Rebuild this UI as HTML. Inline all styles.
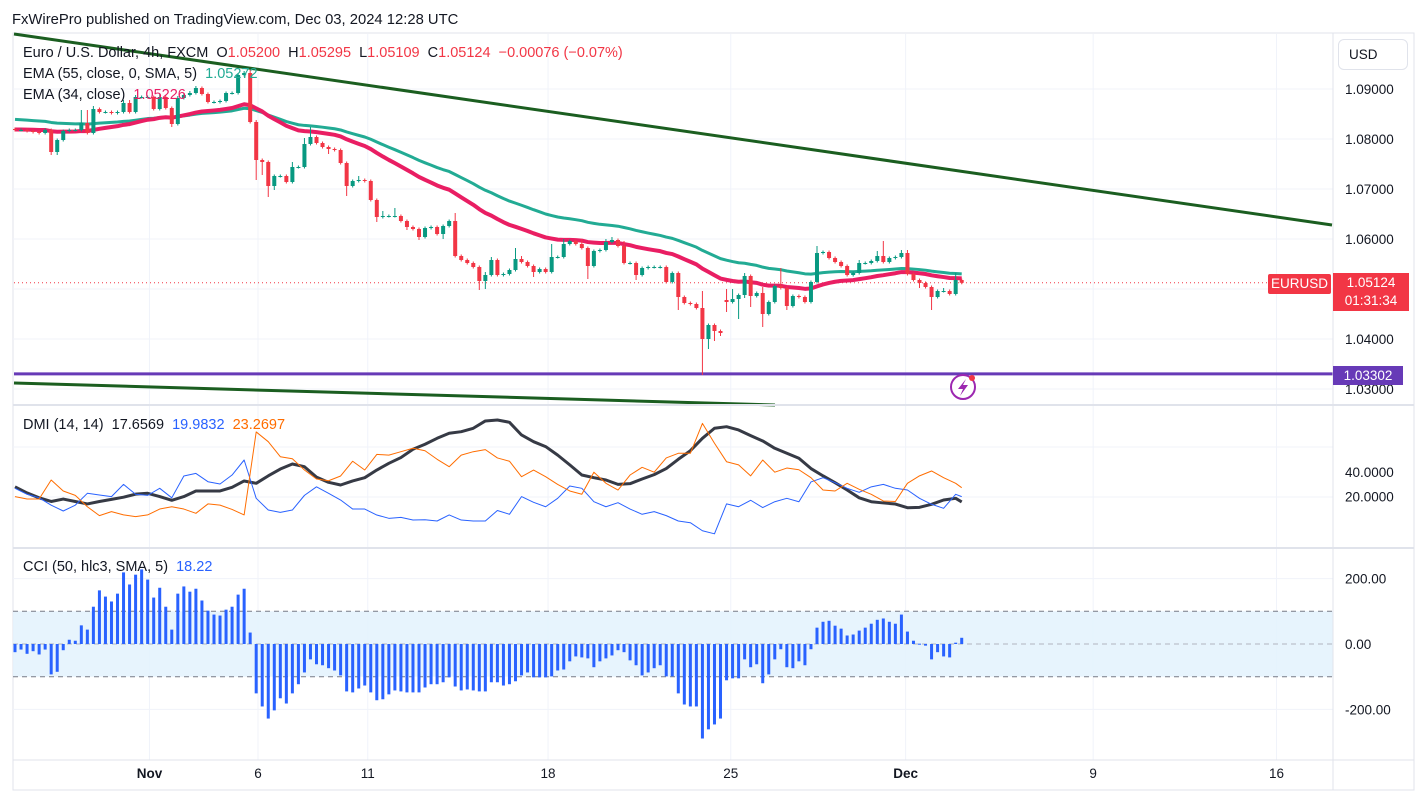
<!DOCTYPE html>
<html><head><meta charset="utf-8"><style>
html,body{margin:0;padding:0;background:#fff;width:1420px;height:791px;overflow:hidden}
svg{display:block;font-family:"Liberation Sans",sans-serif}
</style></head><body>
<svg id="c" width="1420" height="791" viewBox="0 0 1420 791" xmlns="http://www.w3.org/2000/svg">
<text x="12" y="24" font-size="14.8" fill="#131722">FxWirePro published on TradingView.com, Dec 03, 2024 12:28 UTC</text>
<rect x="13" y="33" width="1401" height="757" fill="none" stroke="#e0e3eb"/>
<g id="grid"></g>
<g id="price"></g>
<g id="dmi"></g>
<g id="cci"></g>
<g id="axes"></g>
</svg>
<script>
const closes=[1.0818,1.0818,1.0816,1.0814,1.0812,1.0818,1.0774,1.0798,1.0816,1.0818,
1.0818,1.0832,1.0812,1.0860,1.0854,1.0854,1.0852,1.0854,1.0872,1.0854,
1.0884,1.0884,1.0884,1.0860,1.0884,1.0862,1.0830,1.0882,1.0888,1.0892,
1.0902,1.0890,1.0874,1.0874,1.0876,1.0892,1.0892,1.0928,1.0932,1.0834,
1.0758,1.0754,1.0706,1.0726,1.0726,1.0714,1.0744,1.0744,1.0790,1.0804,
1.0792,1.0784,1.0780,1.0778,1.0752,1.0706,1.0716,1.0718,1.0716,1.0678,
1.0644,1.0646,1.0646,1.0646,1.0636,1.0624,1.0620,1.0604,1.0622,1.0624,
1.0610,1.0626,1.0636,1.0566,1.0558,1.0552,1.0544,1.0516,1.0528,1.0558,
1.0528,1.0530,1.0538,1.0560,1.0554,1.0546,1.0534,1.0540,1.0534,1.0564,
1.0564,1.0590,1.0596,1.0590,1.0582,1.0546,1.0576,1.0578,1.0594,1.0598,
1.0586,1.0552,1.0552,1.0528,1.0542,1.0544,1.0544,1.0544,1.0514,1.0532,
1.0484,1.0472,1.0470,1.0462,1.0400,1.0428,1.0416,1.0412,1.0474,1.0480,
1.0488,1.0526,1.0486,1.0492,1.0450,1.0474,1.0506,1.0502,1.0466,1.0486,
1.0484,1.0474,1.0514,1.0572,1.0574,1.0562,1.0554,1.0546,1.0528,1.0532,
1.0552,1.0552,1.0556,1.0566,1.0554,1.0562,1.0564,1.0572,1.0530,1.0518,
1.0512,1.0504,1.0484,1.0496,1.0496,1.0490,1.0518,1.05124];
const openOverrides={118:1.0478};
const wickHi=[3,3,3,3,3,3,3,3,3,3, 3,26,26,6,3,3,3,3,6,6, 4,3,3,3,6,3,3,4,3,4, 4,3,3,3,3,3,3,4,4,6,
4,3,3,3,3,3,10,3,12,20, 3,3,3,3,3,3,3,8,3,3, 3,10,3,16,3,3,3,3,3,3, 3,3,3,16,3,3,3,3,6,6,
3,3,3,22,6,3,3,3,3,26, 3,10,3,3,10,3,3,3,6,6, 3,10,3,3,3,3,3,3,3,3, 3,3,3,3,34,3,3,3,22,20,
3,6,3,3,12,3,3,36,3,3, 3,3,3,14,3,3,3,3,3,3, 6,3,3,10,30,3,3,6,6,3, 3,3,3,3,6,3,14,3];
const wickLo=[3,3,3,3,3,3,6,6,3,3, 3,3,3,3,3,3,3,3,3,3, 3,3,3,3,3,3,6,3,3,3, 3,3,3,3,3,3,3,3,3,3,
40,26,22,8,3,3,3,3,3,3, 3,3,10,3,3,20,3,3,3,3, 10,3,3,3,3,6,3,6,3,3, 3,10,3,3,3,3,3,18,16,3,
3,3,3,3,3,3,10,3,3,3, 3,3,3,3,3,26,3,3,3,3, 3,3,3,10,3,3,3,3,3,3, 26,3,3,3,72,20,20,6,20,3,
40,6,22,3,26,3,3,3,8,3, 3,3,3,3,3,3,3,3,3,3, 3,3,3,3,3,3,3,3,3,3, 10,3,26,3,3,3,3,3];
const adx=[28,23,19,16,18,16,14,16,17.7,19.5,22,22.7,20,17,20,24.6,24.6,24.6,27.6,32.8,30.9,
37,42.6,46.7,44.5,36,31.7,29.5,32.8,35.5,41.8,47.3,52,58.8,62.9,67.8,71.9,73.2,76,82,82.8,
80.9,70.5,65,61,54,46,37.7,35.5,33.6,30,30.6,34.4,38,43,50.6,57.6,67.8,76,77.3,74.6,
70,65.6,59.6,55.5,51.4,43,37,31.4,25.4,19,15.8,14.8,13.9,10.9,11.2,13.7,17.2,18.6,15.6];
const plusDI=[26.8,21.9,19,13,8.2,13,22.7,21.3,20,30,21.9,21,26.8,19,36.9,39,32.2,30.3,37.7,50,18.6,
9,7.1,9,21,28,22.7,17.2,9.8,9.8,4.9,2.2,3,0.8,1,0,5,0.8,0,0,8.6,
5.5,20,15.3,11.7,18.6,28.7,26.8,15.8,11.7,15,9.8,5.5,7.7,4.4,0,-1.4,-8,-10.5,14,11.7,
17,11,15.8,18.6,15.8,32,35.5,31.4,26.8,23.5,28,30,26.8,25.4,18.6,13.7,10.4,21.9,20];
const minusDI=[20,18,18,33.6,24.6,21,11.7,4.4,7.7,5,3.6,5,9.8,11.7,9.8,6.3,14,13,9.5,5,73,
65,52.7,51,41.8,34.4,33,36.9,49,41.8,54.6,54,56.8,59.6,57.6,50.6,44.5,54,56.8,58.5,51.7,
49,36.3,41.8,36.3,30,24.6,21.9,40,30.9,25.4,37.7,44,40,51.7,55.5,55.5,80,63.7,48.6,46,
37,50,40,43.4,42,35.5,25.4,24.6,30.9,26,21.9,16.4,16,30.9,37,41,35.5,30.9,27.3];
const cci=[-25,-17,-30,-22,-32,-17,-93,-85,-19,13,10,57,44,114,164,145,130,154,219,182,
212,228,197,142,172,114,44,154,176,160,169,133,102,90,87,105,114,151,169,35,
-151,-191,-228,-203,-166,-182,-151,-123,-87,-47,-62,-65,-74,-81,-96,-145,-148,-136,-127,-148,
-172,-169,-154,-142,-145,-148,-148,-148,-133,-123,-123,-117,-102,-130,-142,-139,-142,-145,-145,-117,
-117,-127,-123,-114,-96,-87,-102,-102,-102,-99,-81,-78,-53,-38,-41,-44,-71,-53,-44,-35,
-19,-25,-50,-65,-96,-87,-74,-65,-99,-99,-151,-185,-191,-191,-289,-261,-246,-228,-111,-105,
-105,-47,-71,-62,-120,-93,-47,-16,-71,-74,-53,-65,-16,50,68,71,56,47,26,29,
41,50,62,74,78,68,62,90,38,10,1,-5,-47,-25,-38,-41,4,19];
const dateLabels=["Nov","6","11","18","25","Dec","9","16"];
const dateIdx=[22.3,40.3,58.5,88.4,118.7,147.7,178.8,209.2];
const priceTicks=[1.09,1.08,1.07,1.06,1.04,1.03];
const dmiTicks=[40,20];
const cciTicks=[200,0,-200];

const NS="http://www.w3.org/2000/svg";
function mk(tag,attrs,parent){const e=document.createElementNS(NS,tag);for(const k in attrs)e.setAttribute(k,attrs[k]);parent.appendChild(e);return e;}
const X0=15,DX=6.03,RIGHT=1333,LEFT=13;
const xOf=k=>X0+k*DX;
const yP=p=>339-(p-1.04)*5000;
const yD=v=>521-1.22*v;
const yC=v=>644-v*0.327;
const G=id=>document.getElementById(id);
const grid=G('grid'),price=G('price'),dmi=G('dmi'),cciG=G('cci'),axes=G('axes');

let s=mk('line',{x1:LEFT,x2:1414,y1:405,y2:405,stroke:'#e0e3eb','stroke-width':2},axes);

s=mk('line',{x1:LEFT,x2:1414,y1:548,y2:548,stroke:'#e0e3eb','stroke-width':2},axes);

s=mk('line',{x1:RIGHT,x2:RIGHT,y1:33,y2:790,stroke:'#e0e3eb'},axes);

s=mk('line',{x1:LEFT,x2:1414,y1:760,y2:760,stroke:'#e0e3eb'},axes);


dateLabels.forEach((d,i)=>{const x=xOf(dateIdx[i]);
 const l=mk('line',{x1:x,x2:x,y1:34,y2:760,stroke:'#f0f3fa'},grid);
 
 const t=mk('text',{x:x,y:778,'font-size':13.5,'text-anchor':'middle',fill:'#131722','font-weight':(d==='Nov'||d==='Dec')?'bold':'normal'},axes);
 t.textContent=d;});
priceTicks.forEach(p=>{const y=yP(p);
 const l=mk('line',{x1:LEFT,x2:RIGHT,y1:y,y2:y,stroke:'#f0f3fa'},grid);
 
 const t=mk('text',{x:1345,y:y+5,'font-size':13.5,fill:'#131722'},axes);
 t.textContent=p.toFixed(5);});
[1.05].forEach(p=>{const l=mk('line',{x1:LEFT,x2:RIGHT,y1:yP(p),y2:yP(p),stroke:'#f0f3fa'},grid);});
[447,497].forEach(y=>{const l=mk('line',{x1:LEFT,x2:RIGHT,y1:y,y2:y,stroke:'#f0f3fa'},grid);});
dmiTicks.forEach(v=>{const t=mk('text',{x:1345,y:yD(v)+5,'font-size':13.5,fill:'#131722'},axes);t.textContent=v.toFixed(4);});
cciTicks.forEach(v=>{const l=mk('line',{x1:LEFT,x2:RIGHT,y1:yC(v),y2:yC(v),stroke:'#f0f3fa'},grid);
 const t=mk('text',{x:1345,y:yC(v)+5,'font-size':13.5,fill:'#131722'},axes);t.textContent=v.toFixed(2);});

let tl=mk('line',{x1:14,y1:34,x2:1332,y2:225,stroke:'#1b5e20','stroke-width':3},price);

tl=mk('line',{x1:14,y1:383,x2:775,y2:405,stroke:'#1b5e20','stroke-width':3},price);

tl=mk('line',{x1:14,y1:yP(1.03302),x2:RIGHT,y2:yP(1.03302),stroke:'#673ab7','stroke-width':3},price);

tl=mk('line',{x1:14,y1:yP(1.05124),x2:RIGHT,y2:yP(1.05124),stroke:'#f23645','stroke-width':1,'stroke-dasharray':'1 3'},price);


function ema(n,seed){const a=2/(n+1);let e=seed;return closes.map(c=>(e=e+a*(c-e)));}
const e55=ema(55,1.0840),e34=ema(34,1.0819);
[[e55,'#22ab94',3,'ema-55-line'],[e34,'#e91e63',4,'ema-34-line']].forEach(([arr,col,w,nm])=>{
 const p=mk('polyline',{points:arr.map((v,k)=>xOf(k)+','+yP(v)).join(' '),fill:'none',stroke:col,'stroke-width':w,'stroke-linejoin':'round'},price);
 });

closes.forEach((c,k)=>{
 const o=(openOverrides[k]!==undefined)?openOverrides[k]:(k?closes[k-1]:closes[0]+0.0002);
 const up=c>=o,col=up?'#089981':'#f23645',x=xOf(k);
 const hi=Math.max(o,c)+wickHi[k]/10000,lo=Math.min(o,c)-wickLo[k]/10000;
 const g=mk('g',{},price);
 
 mk('line',{x1:x,x2:x,y1:Math.max(34,yP(hi)),y2:yP(lo),stroke:col,'stroke-width':1},g);
 const yt=yP(Math.max(o,c)),yb=yP(Math.min(o,c));
 mk('rect',{x:x-2,y:yt,width:4,height:Math.max(1,yb-yt),fill:col},g);});

const ic=mk('g',{},price);
mk('circle',{cx:963,cy:387,r:12,fill:'#fff',stroke:'#9c27b0','stroke-width':2},ic);
mk('path',{d:'M966 379 L958 389 L963 389 L960 396 L968 385 L963 385 Z',fill:'#9c27b0'},ic);
mk('circle',{cx:972,cy:378,r:3,fill:'#f23645'},ic);

[[adx,'#363a45',3,'adx-line'],[plusDI,'#2962ff',1,'plus-di-line'],[minusDI,'#ff6d00',1,'minus-di-line']].forEach(([arr,col,w,nm])=>{
 const pts=arr.map((v,i)=>{const k=(i===arr.length-1)?157:i*2;return xOf(k)+','+yD(v);}).join(' ');
 const p=mk('polyline',{points:pts,fill:'none',stroke:col,'stroke-width':w,'stroke-linejoin':'round'},dmi);
 });

const band=mk('rect',{x:LEFT,y:yC(100),width:RIGHT-LEFT,height:yC(-100)-yC(100),fill:'#e3f2fd',opacity:0.85},cciG);

[100,-100].forEach(v=>{const l=mk('line',{x1:LEFT,x2:RIGHT,y1:yC(v),y2:yC(v),stroke:'#787b86','stroke-dasharray':'5 4'},cciG);});
const zl=mk('line',{x1:LEFT,x2:RIGHT,y1:yC(0),y2:yC(0),stroke:'#b2b5be','stroke-dasharray':'5 4'},cciG);
cci.forEach((v,k)=>{const y0=yC(0),y1=yC(v);
 const r=mk('rect',{x:xOf(k)-1.5,y:Math.min(y0,y1),width:3,height:Math.max(1,Math.abs(y1-y0)),fill:'#2962ff'},cciG);
 });
</script>
<div style="position:absolute;left:0;top:0;width:1420px;height:791px;pointer-events:none;font-family:'Liberation Sans',sans-serif;font-size:14.5px;color:#131722">
 <div style="position:absolute;left:23px;top:45px;white-space:nowrap">Euro / U.S. Dollar, 4h, FXCM&nbsp; O<span style="color:#f23645">1.05200</span>&nbsp; H<span style="color:#f23645">1.05295</span>&nbsp; L<span style="color:#f23645">1.05109</span>&nbsp; C<span style="color:#f23645">1.05124</span>&nbsp; <span style="color:#f23645">−0.00076 (−0.07%)</span></div>
 <div style="position:absolute;left:23px;top:66px;white-space:nowrap">EMA (55, close, 0, SMA, 5)&nbsp; <span style="color:#22ab94">1.05272</span></div>
 <div style="position:absolute;left:23px;top:87px;white-space:nowrap">EMA (34, close)&nbsp; <span style="color:#e91e63">1.05226</span></div>
 <div style="position:absolute;left:23px;top:417px;white-space:nowrap">DMI (14, 14)&nbsp; 17.6569&nbsp; <span style="color:#2962ff">19.9832</span>&nbsp; <span style="color:#ff6d00">23.2697</span></div>
 <div style="position:absolute;left:23px;top:559px;white-space:nowrap">CCI (50, hlc3, SMA, 5)&nbsp; <span style="color:#2962ff">18.22</span></div>
 <div style="position:absolute;left:1338px;top:39px;width:70px;height:31px;border:1px solid #e0e3eb;border-radius:6px;box-sizing:border-box;line-height:29px;padding-left:10px;font-size:13.5px">USD</div>
 <div style="position:absolute;left:1268px;top:274px;width:63px;height:20px;background:#f23645;color:#fff;line-height:20px;text-align:center;border-radius:2px;font-size:13.5px">EURUSD</div>
 <div style="position:absolute;left:1333px;top:273px;width:76px;height:38px;background:#f23645;color:#fff;text-align:center;line-height:18px;padding-top:1px;box-sizing:border-box;font-size:13.5px">1.05124<br>01:31:34</div>
 <div style="position:absolute;left:1333px;top:366px;width:70px;height:19px;background:#673ab7;color:#fff;line-height:19px;text-align:center;font-size:13.5px">1.03302</div>
</div>
</body></html>
